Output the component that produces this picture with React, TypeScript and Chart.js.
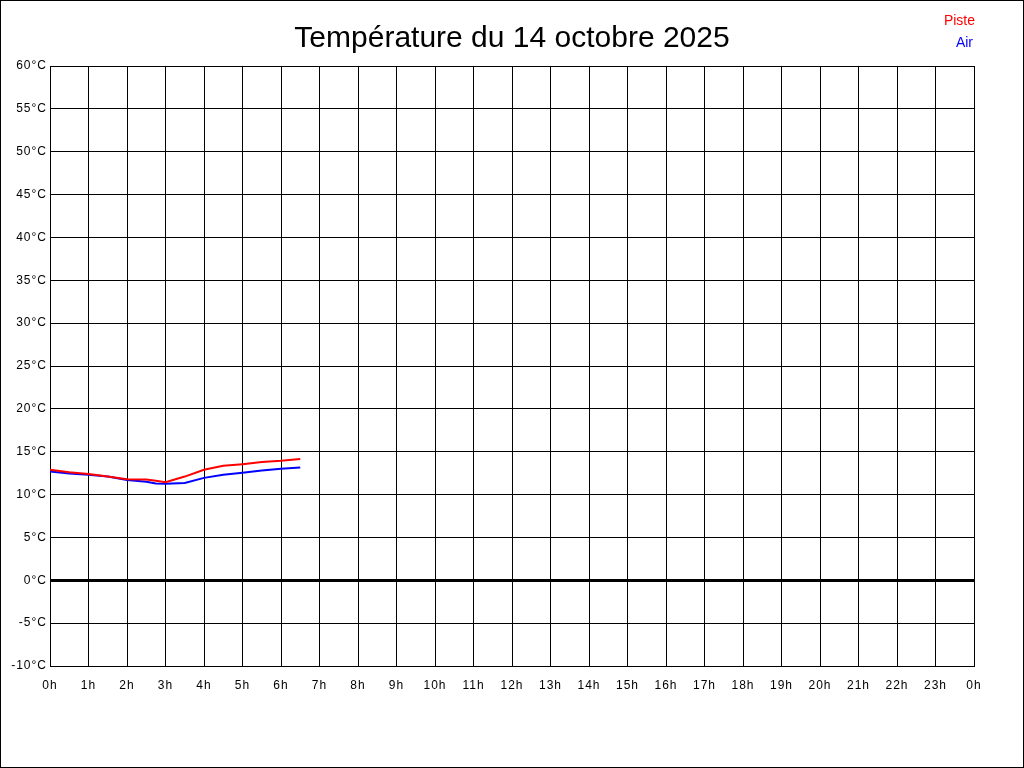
import React, { useEffect, useRef } from "react";
import { Chart, registerables } from "chart.js";

Chart.register(...registerables);

const TITLE = "Température du 14 octobre 2025";
const hours = [0, 0.5, 1, 1.5, 2, 2.5, 2.75, 3, 3.5, 4, 4.5, 5, 5.5, 6, 6.5];
const piste = [12.9, 12.6, 12.4, 12.1, 11.8, 11.75, 11.6, 11.45, 12.1, 12.9, 13.35, 13.55, 13.8, 13.95, 14.15];
const air = [12.7, 12.45, 12.3, 12.1, 11.7, 11.5, 11.3, 11.25, 11.35, 11.95, 12.3, 12.55, 12.8, 13.0, 13.15];
const seriesNames = ["Piste", "Air"];
const seriesColors = ["#ff0000", "#0000ff"];
const yMin = -10;
const yMax = 60;
const yStep = 5;
const xMin = 0;
const xMax = 24;

const FONT = "'Liberation Sans', Arial, sans-serif";

const decorPlugin = {
  id: "decor",
  beforeDraw(chart: any) {
    const ctx = chart.ctx as any;
    ctx.letterSpacing = "1px";
  },
  afterDraw(chart: any) {
    const ctx = chart.ctx as any;
    const w = chart.width;
    const h = chart.height;
    ctx.letterSpacing = "0px";
    ctx.save();
    ctx.strokeStyle = "#000";
    ctx.lineWidth = 1;
    ctx.strokeRect(0.5, 0.5, w - 1, h - 1);
    ctx.fillStyle = "#000";
    ctx.font = `30px ${FONT}`;
    ctx.textAlign = "center";
    ctx.textBaseline = "alphabetic";
    ctx.fillText(TITLE, w / 2, 47);
    ctx.font = `14px ${FONT}`;
    ctx.textAlign = "right";
    ctx.textBaseline = "middle";
    ctx.fillStyle = seriesColors[0];
    ctx.fillText(seriesNames[0], 975, 21);
    ctx.fillStyle = seriesColors[1];
    ctx.fillText(seriesNames[1], 973, 43);
    ctx.restore();
  },
};

export default function App() {
  const ref = useRef<HTMLCanvasElement>(null);
  useEffect(() => {
    document.body.style.margin = "0";
    const chart = new Chart(ref.current!, {
      type: "line",
      data: {
        datasets: [
          {
            label: seriesNames[0],
            data: hours.map((x, i) => ({ x, y: piste[i] })),
            borderColor: seriesColors[0],
            borderWidth: 2,
            pointRadius: 0,
            tension: 0,
          },
          {
            label: seriesNames[1],
            data: hours.map((x, i) => ({ x, y: air[i] })),
            borderColor: seriesColors[1],
            borderWidth: 2,
            pointRadius: 0,
            tension: 0,
          },
        ],
      },
      options: {
        animation: false,
        responsive: false,
        layout: { padding: { top: 66, right: 50, left: 0, bottom: 0 } },
        plugins: { legend: { display: false }, tooltip: { enabled: false }, title: { display: false } },
        scales: {
          x: {
            type: "linear",
            min: xMin,
            max: xMax,
            afterFit: (s: any) => { s.height = 102; },
            ticks: {
              stepSize: 1,
              autoSkip: false,
              maxRotation: 0,
              padding: 12,
              color: "#000",
              font: { family: FONT, size: 12 },
              callback: (v: any) => `${Number(v) % 24}h`,
            },
            grid: { color: "#000", lineWidth: 1, drawTicks: false },
            border: { color: "#000", width: 1 },
          },
          y: {
            type: "linear",
            min: yMin,
            max: yMax,
            afterFit: (s: any) => { s.width = 50; },
            ticks: {
              stepSize: yStep,
              padding: 3,
              color: "#000",
              font: { family: FONT, size: 12 },
              callback: (v: any) => `${v}°C`,
            },
            grid: {
              color: "#000",
              lineWidth: (c: any) => (c.tick && c.tick.value === 0 ? 3 : 1),
              drawTicks: false,
            },
            border: { color: "#000", width: 1 },
          },
        },
      },
      plugins: [decorPlugin],
    });
    return () => chart.destroy();
  }, []);
  return (
    <div style={{ position: "absolute", left: 0, top: 0, width: 1024, height: 768, background: "#fff" }}>
      <canvas ref={ref} width={1024} height={768} style={{ display: "block", width: 1024, height: 768 }} />
    </div>
  );
}
